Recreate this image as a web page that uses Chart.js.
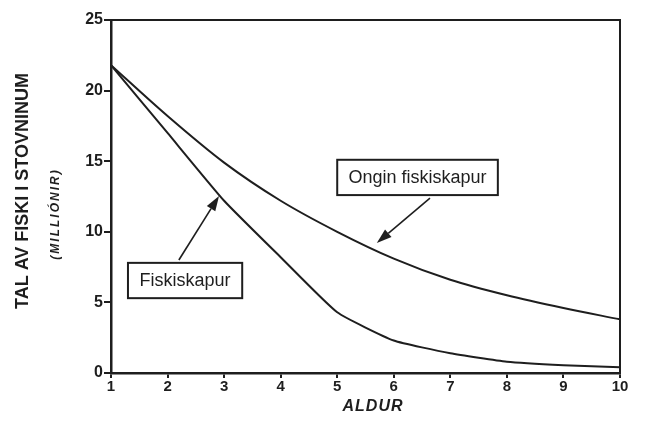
<!DOCTYPE html>
<html>
<head>
<meta charset="utf-8">
<script src="https://cdn.jsdelivr.net/npm/chart.js@4"></script>
<style>
  html, body { margin: 0; padding: 0; background: #fff; }
  #wrap { width: 650px; height: 423px; }
</style>
</head>
<body>
<div id="wrap"><canvas id="fishChart" width="650" height="423"></canvas></div>
<script>
// Data
const ages = [1, 2, 3, 4, 5, 6, 7, 8, 9, 10];
const noFishing = [21.8, 18.2, 14.9, 12.2, 10.0, 8.1, 6.6, 5.5, 4.6, 3.8];
const fishing = [21.8, 17.0, 12.2, 8.2, 4.3, 2.3, 1.4, 0.8, 0.55, 0.4];
const yTicks = [0, 5, 10, 15, 20, 25];

const ink = '#1e1e1e';

// Callout boxes and arrows, in data units
const callouts = [
    { text: 'Ongin fiskiskapur', box: [5.0, 15.1, 7.84, 12.6], from: [6.64, 12.39], to: [5.70, 9.21] },
    { text: 'Fiskiskapur', box: [1.30, 7.8, 3.32, 5.3], from: [2.20, 8.0], to: [2.91, 12.54] }
];

function toXY(chart, p) {
    return [chart.scales.x.getPixelForValue(p[0]), chart.scales.y.getPixelForValue(p[1])];
}

const extras = {
    id: 'extras',
    afterDatasetsDraw(chart) {
        const ctx = chart.ctx;
        const a = chart.chartArea;
        ctx.save();

        // frame
        ctx.strokeStyle = ink;
        ctx.lineWidth = 2;
        ctx.strokeRect(a.left, a.top, a.right - a.left, a.bottom - a.top);

        // callouts
        callouts.forEach(c => {
            const [x0, y0] = toXY(chart, [c.box[0], c.box[1]]);
            const [x1, y1] = toXY(chart, [c.box[2], c.box[3]]);
            ctx.fillStyle = '#fff';
            ctx.fillRect(x0, y0, x1 - x0, y1 - y0);
            ctx.lineWidth = 2;
            ctx.strokeStyle = ink;
            ctx.strokeRect(x0, y0, x1 - x0, y1 - y0);
            ctx.fillStyle = ink;
            ctx.font = '18px "Liberation Sans", Arial, sans-serif';
            ctx.textAlign = 'center';
            ctx.textBaseline = 'middle';
            ctx.fillText(c.text, (x0 + x1) / 2, (y0 + y1) / 2 + 1);

            // arrow
            const [fx, fy] = toXY(chart, c.from);
            const [tx, ty] = toXY(chart, c.to);
            const ang = Math.atan2(ty - fy, tx - fx);
            const len = 15, half = 5;
            const bx = tx - len * Math.cos(ang), by = ty - len * Math.sin(ang);
            ctx.lineWidth = 1.6;
            ctx.beginPath();
            ctx.moveTo(fx, fy);
            ctx.lineTo(bx, by);
            ctx.stroke();
            ctx.beginPath();
            ctx.moveTo(tx, ty);
            ctx.lineTo(bx + half * Math.sin(ang), by - half * Math.cos(ang));
            ctx.lineTo(bx - half * Math.sin(ang), by + half * Math.cos(ang));
            ctx.closePath();
            ctx.fill();
        });

        // axis titles
        ctx.fillStyle = ink;
        ctx.textAlign = 'center';
        ctx.textBaseline = 'middle';
        ctx.save();
        ctx.translate(23, 191);
        ctx.rotate(-Math.PI / 2);
        ctx.font = 'bold 18px "Liberation Sans", Arial, sans-serif';
        ctx.fillText('TAL AV FISKI I STOVNINUM', 0, 0);
        ctx.restore();

        ctx.save();
        ctx.translate(56, 214);
        ctx.rotate(-Math.PI / 2);
        ctx.font = 'italic bold 12px "Liberation Sans", Arial, sans-serif';
        ctx.letterSpacing = '2px';
        ctx.fillText('(MILLIÓNIR)', 0, 0);
        ctx.restore();

        ctx.font = 'italic bold 16px "Liberation Sans", Arial, sans-serif';
        ctx.letterSpacing = '1px';
        ctx.fillText('ALDUR', 373, 407);

        ctx.restore();
    }
};

function createChart() {
    const ctx = document.getElementById('fishChart').getContext('2d');
    new Chart(ctx, {
        type: 'line',
        data: {
            labels: ages,
            datasets: [{
                label: 'Ongin fiskiskapur',
                data: ages.map((a, i) => ({ x: a, y: noFishing[i] })),
                borderColor: ink,
                borderWidth: 2,
                pointRadius: 0,
                cubicInterpolationMode: 'monotone',
                fill: false
            }, {
                label: 'Fiskiskapur',
                data: ages.map((a, i) => ({ x: a, y: fishing[i] })),
                borderColor: ink,
                borderWidth: 2,
                pointRadius: 0,
                tension: 0.15,
                fill: false
            }]
        },
        options: {
            responsive: false,
            animation: false,
            layout: { padding: { top: 20, right: 30, left: 0, bottom: 0 } },
            plugins: {
                legend: { display: false },
                tooltip: { enabled: false }
            },
            scales: {
                x: {
                    type: 'linear',
                    min: 1,
                    max: 10,
                    ticks: {
                        stepSize: 1,
                        color: ink,
                        padding: 0,
                        maxRotation: 0,
                        font: { family: '"Liberation Sans", Arial, sans-serif', size: 15, weight: 'bold' }
                    },
                    grid: { drawOnChartArea: false, tickLength: 5, color: ink, lineWidth: 2 },
                    border: { display: true, color: ink, width: 2.5 },
                    afterFit: s => { s.height = 50; }
                },
                y: {
                    min: 0,
                    max: 25,
                    afterBuildTicks: s => { s.ticks = yTicks.map(v => ({ value: v })); },
                    ticks: {
                        color: ink,
                        padding: 1,
                        font: { family: '"Liberation Sans", Arial, sans-serif', size: 16, weight: 'bold' }
                    },
                    grid: { drawOnChartArea: false, tickLength: 7, color: ink, lineWidth: 2 },
                    border: { display: true, color: ink, width: 2.5 },
                    afterFit: s => { s.width = 111; }
                }
            }
        },
        plugins: [extras]
    });
}

window.onload = function () {
    createChart();
};
</script>
</body>
</html>
